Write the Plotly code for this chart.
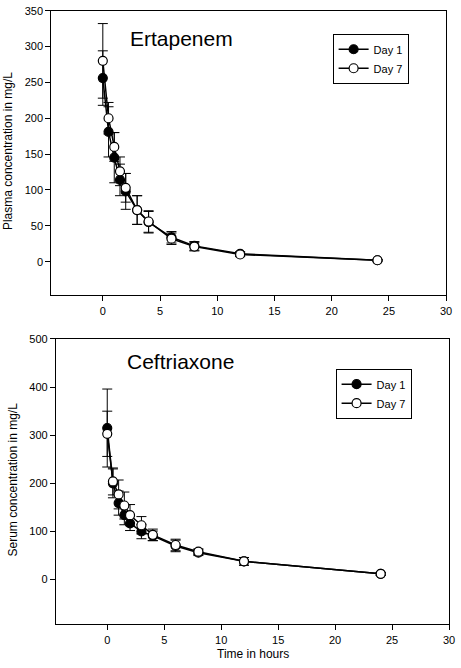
import plotly.graph_objects as go

# ---- data ----
time_h = [0, 0.5, 1, 1.5, 2, 3, 4, 6, 8, 12, 24]

erta_day1 = [256, 181, 145, 114, 98, 72, 55, 34, 22, 11, 2]
erta_day1_err = [38, 35, 35, 22, 25, 20, 15, 8, 6, 3, 1]
erta_day7 = [280, 200, 160, 126, 103, 72, 56, 32, 21, 10, 2]
erta_day7_err = [52, 22, 20, 20, 20, 20, 15, 8, 6, 3, 1]

ceft_day1 = [315, 200, 159, 134, 117, 100, 91, 70, 56, 38, 12]
ceft_day1_err = [81, 30, 25, 20, 15, 15, 10, 12, 6, 8, 3]
ceft_day7 = [303, 204, 177, 154, 134, 113, 93, 72, 58, 38, 12]
ceft_day7_err = [47, 28, 30, 28, 22, 18, 12, 12, 6, 8, 3]

x_ticks = [0, 5, 10, 15, 20, 25, 30]
erta_yticks = [0, 50, 100, 150, 200, 250, 300, 350]
ceft_yticks = [0, 100, 200, 300, 400, 500]

W, H = 461, 668
FONT = "Liberation Sans, Arial, sans-serif"

def px(xp):
    return xp / W

def py(yp):
    return 1 - yp / H

fig = go.Figure()

def add_series(y, err, filled, name, xa, ya, legend, show):
    fig.add_trace(go.Scatter(
        x=time_h, y=y, name=name, mode="lines+markers",
        xaxis=xa, yaxis=ya, legend=legend, showlegend=show,
        line=dict(color="black", width=1.5),
        marker=dict(size=9, color="black" if filled else "white",
                    line=dict(color="black", width=1.2)),
        error_y=dict(type="data", array=err, visible=True,
                     color="black", thickness=1, width=5),
    ))

add_series(erta_day1, erta_day1_err, True, "Day 1", "x", "y", "legend", True)
add_series(erta_day7, erta_day7_err, False, "Day 7", "x", "y", "legend", True)
add_series(ceft_day1, ceft_day1_err, True, "Day 1", "x2", "y2", "legend2", True)
add_series(ceft_day7, ceft_day7_err, False, "Day 7", "x2", "y2", "legend2", True)

axis_common = dict(showline=True, linecolor="black", linewidth=1.2, mirror=True,
                   ticks="outside", ticklen=5, tickcolor="black", tickwidth=1,
                   showgrid=False, zeroline=False, ticklabeloverflow="allow",
                   tickfont=dict(family=FONT, size=11, color="black"))

fig.update_layout(
    width=W, height=H,
    margin=dict(l=0, r=0, t=0, b=0),
    paper_bgcolor="white", plot_bgcolor="white",
    font=dict(family=FONT, color="black"),
    xaxis=dict(domain=[px(52), px(452)], range=[-4.5, 30], tickvals=x_ticks,
               anchor="y", **axis_common),
    yaxis=dict(domain=[py(292), py(4.7)], range=[-47, 350], tickvals=erta_yticks,
               anchor="x", **axis_common),
    xaxis2=dict(domain=[px(56.7), px(455)], range=[-4.5, 30], tickvals=x_ticks,
                anchor="y2", **axis_common),
    yaxis2=dict(domain=[py(624), py(336)], range=[-93, 500], tickvals=ceft_yticks,
                anchor="x2", **axis_common),
    legend=dict(x=px(337), y=py(28), xanchor="left", yanchor="top",
                bordercolor="black", borderwidth=1, bgcolor="white",
                font=dict(family=FONT, size=11), itemwidth=30,
                tracegroupgap=0),
    legend2=dict(x=px(340), y=py(366), xanchor="left", yanchor="top",
                 bordercolor="black", borderwidth=1, bgcolor="white",
                 font=dict(family=FONT, size=11), itemwidth=30,
                 tracegroupgap=0),
)

annots = [
    dict(text="Ertapenem", x=px(130), y=py(33), xanchor="left", yanchor="middle",
         font=dict(size=21)),
    dict(text="Ceftriaxone", x=px(127), y=py(359), xanchor="left", yanchor="middle",
         font=dict(size=21)),
    dict(text="Plasma concentration in mg/L", x=px(7.5), y=py(146), textangle=-90,
         xanchor="center", yanchor="middle", font=dict(size=12)),
    dict(text="Serum concentration in mg/L", x=px(13), y=py(478), textangle=-90,
         xanchor="center", yanchor="middle", font=dict(size=12)),
    dict(text="Time in hours", x=px(256), y=py(654), xanchor="center",
         yanchor="middle", font=dict(size=12)),
]
for a in annots:
    fig.add_annotation(xref="paper", yref="paper", showarrow=False,
                       font_family=FONT, font_color="black", **a)

fig.write_html("out.html", config={"displayModeBar": False},
               post_script="document.body.style.margin='0';document.body.style.overflow='hidden';")
